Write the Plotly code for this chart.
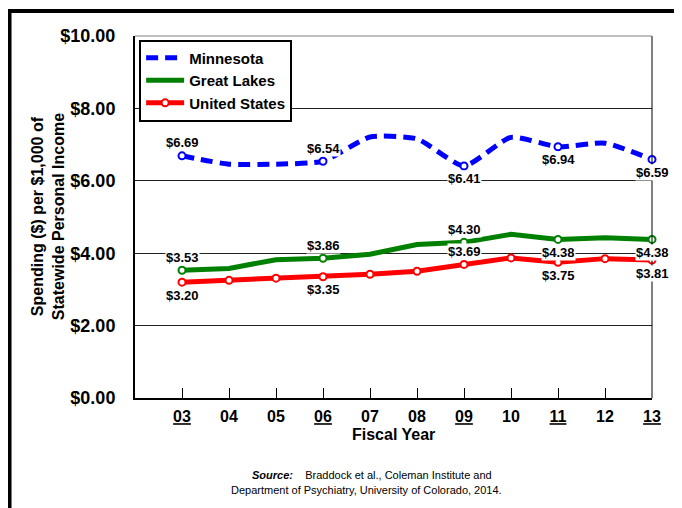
import plotly.graph_objects as go

years = ["03", "04", "05", "06", "07", "08", "09", "10", "11", "12", "13"]
underlined = ["03", "06", "09", "11", "13"]

minnesota = [6.69, 6.46, 6.46, 6.54, 7.21, 7.16, 6.41, 7.20, 6.94, 7.04, 6.59]
great_lakes = [3.53, 3.58, 3.82, 3.86, 3.97, 4.24, 4.30, 4.52, 4.38, 4.43, 4.38]
united_states = [3.20, 3.25, 3.31, 3.35, 3.42, 3.50, 3.69, 3.87, 3.75, 3.85, 3.81]

# labelled points: index -> position of label (above / below)
mn_labels = {0: "above", 3: "above", 6: "below", 8: "below", 10: "below"}
gl_labels = {0: "above", 3: "above", 6: "above", 8: "below", 10: "below"}
us_labels = {0: "below", 3: "below", 6: "above", 8: "below", 10: "below"}

y_ticks = [0, 2, 4, 6, 8, 10]

FONT = "Liberation Sans, Arial, sans-serif"
BLUE = "#0000FF"
GREEN = "#008000"
RED = "#FF0000"

x = list(range(len(years)))

fig = go.Figure()

fig.add_trace(go.Scatter(
    x=x, y=minnesota, name="Minnesota", mode="lines",
    line=dict(color=BLUE, width=5, dash="12px,7px", shape="spline", smoothing=0.55),
))
fig.add_trace(go.Scatter(
    x=x, y=great_lakes, name="Great Lakes", mode="lines",
    line=dict(color=GREEN, width=5),
))
fig.add_trace(go.Scatter(
    x=x, y=united_states, name="United States", mode="lines+markers",
    line=dict(color=RED, width=5),
    marker=dict(size=7, color="white", line=dict(color=RED, width=2)),
    cliponaxis=False,
))
# markers at labelled points for Minnesota / Great Lakes
for vals, labels, col in [(minnesota, mn_labels, BLUE), (great_lakes, gl_labels, GREEN)]:
    idx = sorted(labels)
    fig.add_trace(go.Scatter(
        x=[x[i] for i in idx], y=[vals[i] for i in idx], mode="markers",
        marker=dict(size=7, color="white", line=dict(color=col, width=2)),
        showlegend=False, cliponaxis=False, hoverinfo="skip",
    ))

annotations = []
for vals, labels in [(minnesota, mn_labels), (great_lakes, gl_labels), (united_states, us_labels)]:
    for i, pos in labels.items():
        annotations.append(dict(
            x=x[i], y=vals[i], xref="x", yref="y",
            text=f"<b>${vals[i]:.2f}</b>", showarrow=False,
            yshift=13 if pos == "above" else -13,
            font=dict(family=FONT, size=13, color="black"),
            bgcolor="white", borderpad=0, yanchor="middle",
        ))

annotations.append(dict(
    x=-0.168, y=0.5, xref="paper", yref="paper", textangle=-90,
    text="<b>Spending ($) per $1,000 of<br>Statewide Personal Income</b>",
    showarrow=False, font=dict(family=FONT, size=16, color="black"),
    xanchor="center", yanchor="middle",
))
annotations.append(dict(
    x=0.5, y=-0.102, xref="paper", yref="paper",
    text="<b>Fiscal Year</b>", showarrow=False,
    font=dict(family=FONT, size=16, color="black"),
    xanchor="center", yanchor="middle",
))
annotations.append(dict(
    x=0.458, y=-0.2127, xref="paper", yref="paper",
    text="<b><i>Source:</i></b>    Braddock et al., Coleman Institute and",
    showarrow=False, font=dict(family=FONT, size=11, color="black"),
    xanchor="center", yanchor="middle",
))
annotations.append(dict(
    x=0.447, y=-0.254, xref="paper", yref="paper",
    text="Department of Psychiatry, University of Colorado, 2014.",
    showarrow=False, font=dict(family=FONT, size=11, color="black"),
    xanchor="center", yanchor="middle",
))

ticktext = [
    f'<span style="text-decoration:underline">{y}</span>' if y in underlined else y
    for y in years
]

fig.update_layout(
    width=674, height=500,
    margin=dict(l=127, r=30, t=28, b=110),
    paper_bgcolor="white", plot_bgcolor="white",
    font=dict(family=FONT, color="black"),
    showlegend=True,
    legend=dict(
        x=0.008, y=0.99, xanchor="left", yanchor="top",
        bgcolor="white", bordercolor="black", borderwidth=2,
        font=dict(family=FONT, size=15, color="black", weight="bold"),
        tracegroupgap=0, itemwidth=38,
    ),
    xaxis=dict(
        range=[-1, 10], tickvals=x, ticktext=ticktext,
        tickfont=dict(family=FONT, size=16, color="black", weight="bold"),
        ticks="inside", ticklen=10, tickcolor="black", tickwidth=1,
        showgrid=False, zeroline=False,
        showline=True, linecolor="black", linewidth=2,
        ticklabelstandoff=3,
    ),
    yaxis=dict(
        range=[0, 10], tickvals=y_ticks, tickformat="$.2f",
        tickfont=dict(family=FONT, size=18, color="black", weight="bold"),
        ticks="", showgrid=True, gridcolor="#222222", gridwidth=1,
        zeroline=False, showline=True, linecolor="black", linewidth=2,
        ticklabelstandoff=14,
    ),
    annotations=annotations,
    shapes=[
        dict(type="line", xref="paper", yref="paper", x0=1, x1=1, y0=0, y1=1,
             line=dict(color="black", width=1)),
        dict(type="line", xref="paper", yref="paper", x0=0, x1=1, y0=1, y1=1,
             line=dict(color="#808080", width=1)),
        dict(type="line", xref="paper", yref="paper", x0=-0.2427, x1=-0.2427, y0=-0.5, y1=1.0691,
             line=dict(color="black", width=4)),
        dict(type="line", xref="paper", yref="paper", x0=-0.2466, x1=1.2, y0=1.0691, y1=1.0691,
             line=dict(color="black", width=4)),
    ],
)

fig.write_html("out.html")
